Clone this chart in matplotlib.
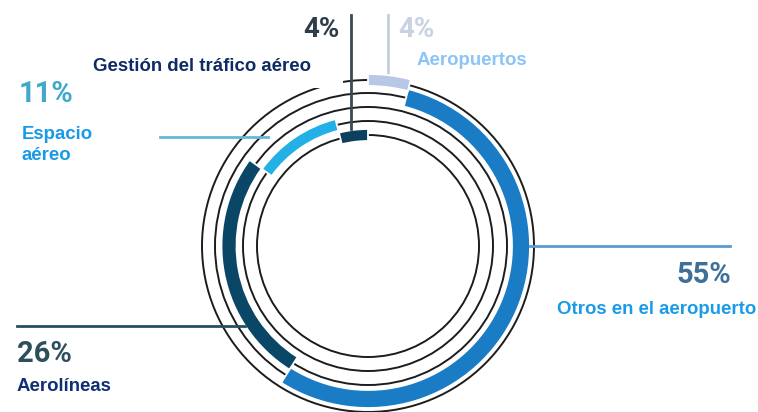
import matplotlib
matplotlib.use("Agg")
import matplotlib.pyplot as plt
from matplotlib.patches import Wedge, Circle, Rectangle

# ---- data ----
categories = ["Gestión del tráfico aéreo", "Espacio aéreo", "Aerolíneas",
              "Otros en el aeropuerto", "Aeropuertos"]
shares = [4, 11, 26, 55, 4]
pct_labels = ["4%", "11%", "26%", "55%", "4%"]
name_labels = ["Gestión del tráfico aéreo", "Espacio\naéreo", "Aerolíneas",
               "Otros en el aeropuerto", "Aeropuertos"]

# ---- style / layout ----
W, H = 758, 412
band_colors = ["#0d3f5f", "#22b0e6", "#0a4766", "#1b7cc6", "#b7c7e6"]
band_widths = [12, 12, 15, 18, 12]
pct_colors = ["#2e3d4a", "#3fa9c9", "#2d4f5c", "#3f6f96", "#c9d1e2"]
name_colors = ["#0e2b63", "#199ae8", "#0e2e75", "#1a9be8", "#8cc4f7"]
line_colors = ["#3b4a55", "#66b8d6", "#24505f", "#5b9bd0", "#c6cdda"]

cx, cy = 368, H - 246
radii = [111, 125, 139, 153, 166]

def Y(py):
    return H - py

fig = plt.figure(figsize=(W / 100, H / 100), dpi=100)
ax = fig.add_axes([0, 0, 1, 1])
ax.set_xlim(0, W)
ax.set_ylim(0, H)
ax.set_aspect("equal")
ax.axis("off")

# concentric thin rings
for r in radii:
    ax.add_patch(Circle((cx, cy), r, fill=False, ec="#1c1c1c", lw=1.4, zorder=1))

# white label background hiding the rings top-left
ax.add_patch(Rectangle((88, Y(88)), 255, 48, fc="white", ec="none", zorder=2))

# bands
start = 90.0
for i, s in enumerate(shares):
    span = s / sum(shares) * 360.0
    r_mid = radii[i]
    w = band_widths[i]
    ax.add_patch(Wedge((cx, cy), r_mid + w / 2, start, start + span, width=w,
                       fc=band_colors[i], ec="white", lw=1.3, zorder=3))
    start += span

# connector lines
ax.plot([351, 351], [Y(15), Y(129)], color=line_colors[0], lw=2, zorder=4)
ax.plot([160, 268], [Y(137), Y(137)], color=line_colors[1], lw=2, zorder=4)
ax.plot([17, 245], [Y(326), Y(326)], color=line_colors[2], lw=2, zorder=4)
ax.plot([530, 730], [Y(246), Y(246)], color=line_colors[3], lw=2, zorder=4)
ax.plot([388, 388], [Y(15), Y(73)], color=line_colors[4], lw=2, zorder=2.5)

# percentage labels
pf = dict(family=["Roboto", "DejaVu Sans"], weight="bold", zorder=5)
ax.text(340, Y(37), pct_labels[0], color=pct_colors[0], fontsize=20, ha="right", va="baseline", **pf)
ax.text(19, Y(102), pct_labels[1], color=pct_colors[1], fontsize=21, ha="left", va="baseline", **pf)
ax.text(17, Y(362), pct_labels[2], color=pct_colors[2], fontsize=21, ha="left", va="baseline", **pf)
ax.text(731, Y(283), pct_labels[3], color=pct_colors[3], fontsize=21, ha="right", va="baseline", **pf)
ax.text(398, Y(37), pct_labels[4], color=pct_colors[4], fontsize=20, ha="left", va="baseline", **pf)

# name labels
nf = dict(family=["Liberation Sans", "DejaVu Sans"], weight="bold", fontsize=13.4, zorder=5)
ax.text(93, Y(71), name_labels[0], color=name_colors[0], ha="left", va="baseline", **nf)
ax.text(22, Y(160), name_labels[1], color=name_colors[1], ha="left", va="baseline",
        linespacing=1.3, **nf)
ax.text(17, Y(391), name_labels[2], color=name_colors[2], ha="left", va="baseline", **nf)
ax.text(557, Y(314), name_labels[3], color=name_colors[3], ha="left", va="baseline", **nf)
ax.text(417, Y(65), name_labels[4], color=name_colors[4], ha="left", va="baseline", **nf)

fig.savefig("out.png", dpi=100, facecolor="white")
